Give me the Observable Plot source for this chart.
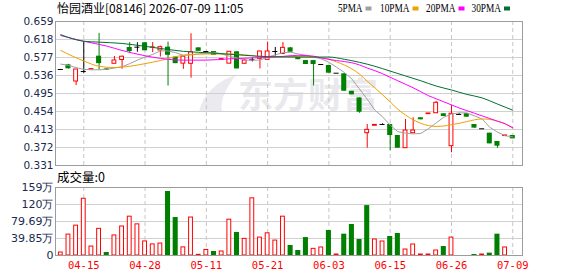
<!DOCTYPE html>
<html><head><meta charset="utf-8">
<script src="https://cdn.jsdelivr.net/npm/d3@7"></script>
<script src="https://cdn.jsdelivr.net/npm/@observablehq/plot@0.6"></script>
<style>
body{margin:0;background:#fff;}
#wrap{position:relative;width:578px;height:276px;overflow:hidden;background:#fff;}
#wrap > *{position:absolute;left:0;}
#title{left:57px;top:0;font:12px "Noto Sans CJK SC",sans-serif;line-height:16px;color:#000;white-space:nowrap;}
#vlabel{left:57px;top:169px;font:12.5px "Noto Sans CJK SC",sans-serif;line-height:16px;color:#000;}
</style></head><body><div id="wrap">
<svg id="wm" width="578" height="276" style="top:0">
  <path d="M199,112 C203,94 217,81 236,75 C226,88 220,99 222,112 Z" fill="#ebebef" stroke="none"/>
  <text x="238" y="108" font-family="Noto Sans CJK SC" font-weight="bold" font-size="35" fill="#e9e9ed" textLength="140">东方财富</text>
</svg>
<div id="title">怡园酒业[08146] 2026-07-09 11:05</div>
<svg id="legend" width="578" height="20" style="top:0"></svg>
<div id="vlabel">成交量:0</div>
</div>
<script>
// ---- data ----
const dates = ["04-15","04-28","05-11","05-21","06-03","06-15","06-26","07-09"];
const dateIdx = [3, 11, 19, 27, 35, 43, 51, 59];
const priceTicks = [0.331,0.372,0.413,0.454,0.495,0.536,0.577,0.618,0.659];
const volTicks = [0, 39.85, 79.69, 119.54, 159.38];
const volTickLabels = ["0","39.85万","79.69万","120万","159万"];

const opens = [0.5497,0.5603,0.5223,0.545,0.5495,0.580,0.551,0.5627,0.5713,0.5997,
  0.6005,0.6105,0.5998,0.5930,0.6005,0.578,0.563,0.5627,0.599,0.5907,
  0.5907,0.572,0.563,0.590,0.5627,0.5717,0.574,0.5717,0.5907,0.585,
  0.599,0.577,0.570,0.570,0.561,0.5588,0.5412,0.5399,0.500,0.485,
  0.4046,0.4215,0.4244,0.4244,0.3993,0.3704,0.4046,0.4397,0.448,0.450,
  0.4488,0.375,0.4473,0.449,0.4244,0.4146,0.4046,0.3857,0.3980,0.3993];
const highs = [0.5497,0.5615,0.5497,0.613,0.551,0.632,0.552,0.5793,0.580,0.611,
  0.6105,0.6105,0.611,0.603,0.612,0.578,0.580,0.631,0.599,0.5907,
  0.5907,0.5735,0.590,0.590,0.572,0.576,0.591,0.612,0.600,0.611,
  0.600,0.577,0.570,0.570,0.561,0.5588,0.5412,0.5399,0.500,0.485,
  0.4244,0.4235,0.426,0.4244,0.3993,0.4358,0.4397,0.4397,0.4495,0.477,
  0.4488,0.468,0.449,0.449,0.4244,0.4146,0.4046,0.3857,0.3995,0.3993];
const lows = [0.5497,0.5505,0.5132,0.541,0.5495,0.548,0.548,0.5627,0.5504,0.588,
  0.5891,0.5923,0.588,0.578,0.512,0.563,0.550,0.530,0.591,0.5907,
  0.582,0.572,0.563,0.551,0.562,0.567,0.551,0.571,0.580,0.585,
  0.589,0.572,0.561,0.512,0.561,0.5412,0.5412,0.5002,0.492,0.450,
  0.3704,0.4215,0.422,0.365,0.3704,0.3704,0.4046,0.4351,0.448,0.450,
  0.4427,0.360,0.445,0.441,0.4161,0.4146,0.3803,0.370,0.3980,0.3917];
const closes = [0.5497,0.5513,0.5497,0.545,0.5505,0.563,0.548,0.5702,0.5788,0.5906,
  0.6005,0.5923,0.6002,0.6005,0.582,0.563,0.579,0.589,0.591,0.5907,
  0.582,0.5735,0.590,0.551,0.5702,0.5717,0.5907,0.5907,0.5907,0.599,
  0.589,0.572,0.561,0.561,0.561,0.5412,0.5412,0.5002,0.492,0.4524,
  0.4122,0.4235,0.4244,0.3993,0.3704,0.4107,0.4107,0.4351,0.4495,0.4738,
  0.4427,0.4488,0.4473,0.441,0.4161,0.4146,0.3803,0.375,0.3995,0.3917];

// volume in 万 shares, and the colour of each volume bar as drawn
const volumes = [7,49,70,133,21,62.5,7,47,68,91,
  73,33,26,28,150,89,19,89,1.5,13,
  9.4,9.4,84,54,39,134,42,52,35,91,
  23.4,11.7,42,15.6,18.8,58.6,2.3,50,72.7,37.5,
  117,37.5,32.8,44.5,51.6,14,25.8,2.3,2.3,11.7,
  21,42,0,0,2.3,2.3,5.5,50,18.8,0];
const volDir = ["up","up","up","up","up","up","down","up","up","up",
  "up","up","up","up","down","down","up","up","up","up",
  "down","up","up","down","up","up","up","up","up","up",
  "down","down","down","up","up","down","up","down","down","down",
  "down","up","up","down","down","up","up","up","up","up",
  "down","up","up","down","down","up","down","down","up","down"];

const ma5 = [0.562,0.559,0.554,0.550,0.549,0.549,0.550,0.553,0.556,0.563,
  0.571,0.578,0.584,0.592,0.592,0.588,0.582,0.583,0.585,0.587,
  0.589,0.585,0.580,0.576,0.571,0.571,0.571,0.578,0.583,0.588,
  0.589,0.585,0.582,0.578,0.574,0.566,0.555,0.543,0.528,0.505,
  0.482,0.457,0.442,0.423,0.408,0.405,0.403,0.404,0.415,0.428,
  0.441,0.448,0.451,0.451,0.444,0.437,0.418,0.407,0.399,0.396];
const ma10 = [[0,0.593],[3,0.569],[5,0.557],[7,0.554],[9,0.557],[11,0.563],[13,0.570],[15,0.579],[17,0.584],[19,0.585],
  [22,0.585],[24,0.583],[27,0.578],[30,0.579],[33,0.578],[35,0.573],[36,0.567],[37,0.560],[38,0.551],[39,0.539],
  [40,0.523],[41,0.508],[42,0.492],[43,0.476],[44,0.459],[45,0.446],[46,0.435],[47,0.427],[48,0.422],[49,0.420],
  [50,0.421],[51,0.424],[52,0.427],[53,0.431],[54,0.435],[55,0.437],[56,0.436],[57,0.432],[58,0.426],[59,0.416]];
const ma20 = [[0,0.627],[3,0.614],[6,0.603],[8,0.593],[11,0.581],[13,0.575],[16,0.571],[19,0.571],[22,0.574],[25,0.576],
  [28,0.578],[31,0.582],[33,0.580],[34,0.576],[36,0.570],[38,0.565],[39,0.560],[40,0.553],[41,0.547],[42,0.540],
  [43,0.532],[44,0.524],[45,0.516],[46,0.508],[47,0.499],[48,0.490],[49,0.483],[50,0.476],[51,0.469],[52,0.462],
  [53,0.456],[54,0.450],[55,0.444],[56,0.438],[57,0.432],[58,0.426],[59,0.417]];
const ma30 = [[0,0.629],[3,0.614],[5,0.612],[8,0.609],[12,0.600],[16,0.591],[20,0.587],[24,0.582],[27,0.579],[31,0.578],
  [35,0.578],[37,0.573],[39,0.566],[41,0.557],[43,0.546],[45,0.535],[47,0.524],[49,0.512],[51,0.503],[53,0.493],
  [55,0.485],[57,0.471],[59,0.457]];

const legendItems = [
  {label:"5PMA", color:"#a0a0a0"},
  {label:"10PMA", color:"#f0a000"},
  {label:"20PMA", color:"#ff00ff"},
  {label:"30PMA", color:"#007030"}
];

// ---- build ----
const RED = "#ff0000", GREEN = "#008000";
const bars = closes.map((c, i) => ({i, o: opens[i], h: highs[i], l: lows[i], c, v: volumes[i], vd: volDir[i]}));
const up = bars.filter(d => d.c > d.o);
const down = bars.filter(d => d.c < d.o);
const flat = bars.filter(d => d.c === d.o);
const xDomain = [-0.69, 60.27];
const hw = 0.30;

const main = Plot.plot({
  width: 578, height: 170,
  marginLeft: 55, marginRight: 56, marginTop: 21, marginBottom: 5,
  x: {type: "linear", domain: xDomain, axis: null, label: null},
  y: {domain: [0.331, 0.659], label: null},
  style: {background: "transparent", fontFamily: "DejaVu Sans", fontSize: "10.5px", overflow: "visible"},
  marks: [
    Plot.ruleY(priceTicks, {stroke: "#d0d0d0"}),
    Plot.ruleX(dateIdx, {stroke: "#c6c6c6", strokeDasharray: "4,3"}),
    Plot.ruleX(up, {x: "i", y1: "l", y2: "h", stroke: RED}),
    Plot.ruleX(down, {x: "i", y1: "l", y2: "h", stroke: GREEN}),
    Plot.ruleX(flat, {x: "i", y1: "l", y2: "h", stroke: "#000"}),
    Plot.rect(up, {x1: d => d.i - hw + 0.05, x2: d => d.i + hw - 0.05, y1: "o", y2: "c", fill: "white", stroke: RED}),
    Plot.rect(down, {x1: d => d.i - hw - 0.03, x2: d => d.i + hw + 0.03, y1: "o", y2: "c", fill: GREEN}),
    Plot.ruleY(flat, {y: "c", x1: d => d.i - hw - 0.03, x2: d => d.i + hw + 0.03, stroke: "#000"}),
    Plot.line(ma5, {x: (d, i) => i, y: d => d, stroke: legendItems[0].color, strokeWidth: 1}),
    Plot.line(ma10, {x: d => d[0], y: d => d[1], stroke: legendItems[1].color, strokeWidth: 1, curve: "monotone-x"}),
    Plot.line(ma20, {x: d => d[0], y: d => d[1], stroke: legendItems[2].color, strokeWidth: 1, curve: "monotone-x"}),
    Plot.line(ma30, {x: d => d[0], y: d => d[1], stroke: legendItems[3].color, strokeWidth: 1, curve: "monotone-x"}),
    Plot.frame({stroke: "#9c9c9c"}),
    Plot.axisY({ticks: priceTicks, tickFormat: d => d.toFixed(3), tickSize: 0, tickPadding: 2, fill: "#1b2a50", label: null})
  ]
});
main.style.position = "absolute"; main.style.top = "0px"; main.style.left = "0px";

const vUp = bars.filter(d => d.vd === "up" && d.v > 0);
const vDown = bars.filter(d => d.vd === "down" && d.v > 0);
const vol = Plot.plot({
  width: 578, height: 96,
  marginLeft: 55, marginRight: 56, marginTop: 7, marginBottom: 21,
  x: {type: "linear", domain: xDomain, label: null},
  y: {domain: [0, 159.38], label: null},
  style: {background: "transparent", fontFamily: "DejaVu Sans", fontSize: "11px", overflow: "visible"},
  marks: [
    Plot.ruleY(volTicks, {stroke: "#d0d0d0"}),
    Plot.ruleX(dateIdx, {stroke: "#c6c6c6", strokeDasharray: "4,3"}),
    Plot.rect(vUp, {x1: d => d.i - hw + 0.05, x2: d => d.i + hw - 0.05, y1: 0, y2: "v", fill: "white", stroke: RED}),
    Plot.rect(vDown, {x1: d => d.i - hw - 0.03, x2: d => d.i + hw + 0.03, y1: 0, y2: "v", fill: GREEN}),
    Plot.frame({stroke: "#9c9c9c"}),
    Plot.axisY({ticks: volTicks, tickFormat: d => volTickLabels[volTicks.indexOf(d)], tickSize: 0, tickPadding: 2, fill: "#1b2a50", label: null}),
    Plot.axisX({ticks: dateIdx, tickFormat: d => dates[dateIdx.indexOf(d)], tickSize: 0, tickPadding: 6, fill: RED, fontFamily: "DejaVu Sans Mono", fontSize: 10.5, label: null})
  ]
});
vol.style.position = "absolute"; vol.style.top = "180px"; vol.style.left = "0px";

const wrap = document.getElementById("wrap");
wrap.appendChild(main);
wrap.appendChild(vol);

// legend
const lg = d3.select("#legend");
const lgX = [338, 380, 426, 471.5];
const lgW = [24.5, 29.5, 29.5, 29.5];
legendItems.forEach((it, k) => {
  lg.append("text").attr("x", lgX[k]).attr("y", 12.3)
    .attr("font-family", "Liberation Serif").attr("font-size", 11.5)
    .attr("textLength", lgW[k]).attr("lengthAdjust", "spacingAndGlyphs")
    .attr("fill", "#000").text(it.label);
  lg.append("rect").attr("x", lgX[k] + lgW[k] + 3).attr("y", 6.5).attr("width", 6).attr("height", 4).attr("fill", it.color);
});
</script>
</body></html>
